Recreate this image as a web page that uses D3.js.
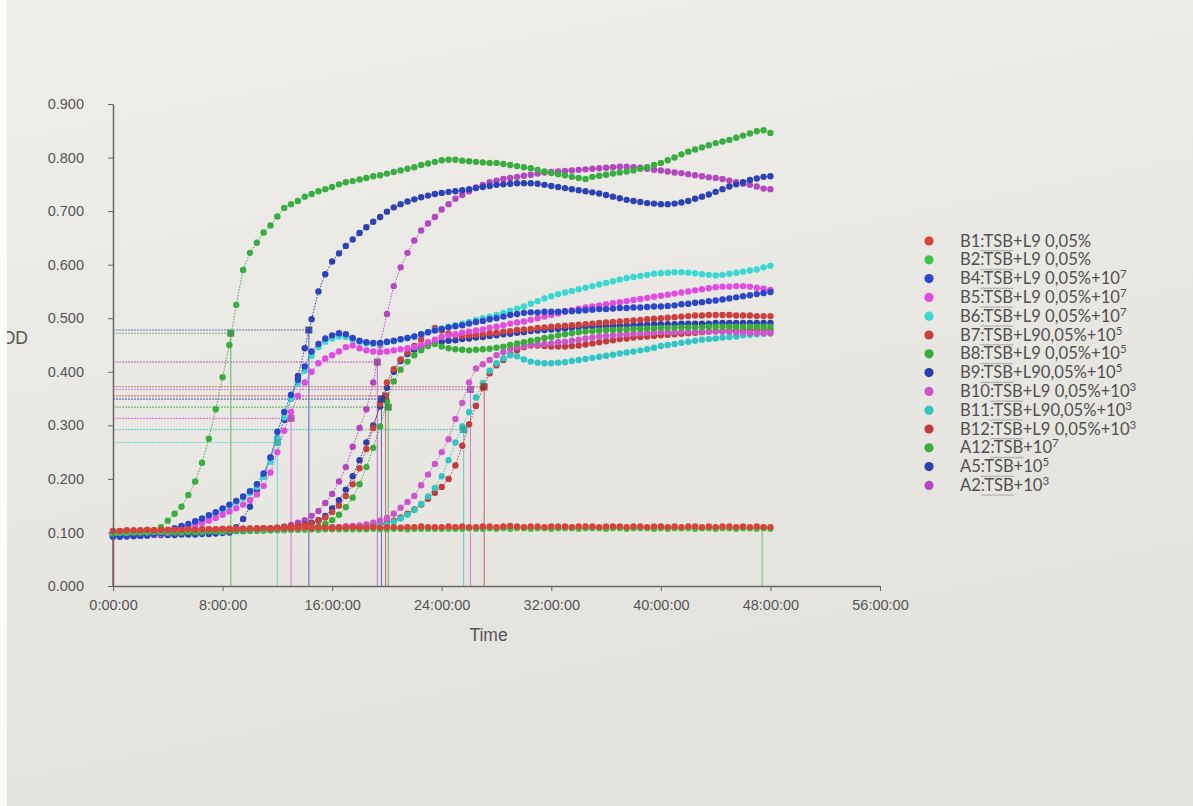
<!DOCTYPE html>
<html>
<head>
<meta charset="utf-8">
<script src="https://cdn.jsdelivr.net/npm/d3@7"></script>
<style>
  body { margin: 0; background: #e8e6e1; overflow: hidden; }
  .axis text { font-family: "Liberation Sans", Arial, sans-serif; font-size: 14.5px; fill: #555; }
  .axis path, .axis line { stroke: #666; }
  .axis path { stroke-width: 1.5; }
  .axis-label { font-family: "Liberation Sans", Arial, sans-serif; font-size: 17.5px; fill: #555; }
  .legend text { font-family: Lato, "Liberation Sans", sans-serif; font-size: 16.6px; fill: #505050; }
</style>
</head>
<body>
<div id="wrapper"></div>
<script>
// time axis, one reading every 30 minutes from 0 h to 48 h
const hours = d3.range(0, 48.5, 0.5)

const b1 = [
  0.103,0.103,0.104,0.104,0.104,0.105,0.104,0.105,0.105,0.105,
  0.105,0.106,0.105,0.106,0.106,0.106,0.107,0.106,0.107,0.107,
  0.107,0.107,0.108,0.107,0.108,0.108,0.108,0.108,0.109,0.108,
  0.109,0.109,0.108,0.109,0.109,0.110,0.109,0.109,0.110,0.109,
  0.110,0.110,0.109,0.110,0.110,0.111,0.110,0.110,0.110,0.111,
  0.110,0.111,0.110,0.110,0.111,0.111,0.110,0.111,0.112,0.111,
  0.110,0.111,0.111,0.110,0.111,0.111,0.111,0.110,0.111,0.111,
  0.111,0.110,0.111,0.111,0.111,0.110,0.111,0.111,0.110,0.111,
  0.111,0.110,0.111,0.110,0.111,0.111,0.110,0.111,0.110,0.111,
  0.111,0.110,0.111,0.110,0.111,0.110,0.110]
const b2 = [
  0.098,0.099,0.099,0.100,0.100,0.100,0.101,0.101,0.101,0.102,
  0.102,0.102,0.102,0.103,0.103,0.103,0.103,0.104,0.104,0.104,
  0.104,0.104,0.104,0.105,0.105,0.105,0.105,0.105,0.105,0.106,
  0.105,0.106,0.106,0.106,0.106,0.106,0.106,0.106,0.107,0.106,
  0.106,0.107,0.107,0.106,0.107,0.107,0.107,0.107,0.107,0.107,
  0.107,0.107,0.108,0.107,0.107,0.108,0.107,0.108,0.107,0.108,
  0.108,0.107,0.108,0.108,0.107,0.108,0.108,0.108,0.107,0.108,
  0.108,0.108,0.107,0.108,0.108,0.107,0.108,0.108,0.108,0.107,
  0.108,0.107,0.108,0.108,0.108,0.107,0.108,0.108,0.107,0.108,
  0.108,0.107,0.108,0.108,0.107,0.108,0.107]
const b4 = [
  0.092,0.092,0.093,0.093,0.094,0.095,0.097,0.099,0.103,0.108,
  0.112,0.116,0.121,0.126,0.132,0.138,0.145,0.152,0.159,0.167,
  0.177,0.190,0.210,0.240,0.288,0.325,0.357,0.385,0.410,0.438,
  0.452,0.462,0.468,0.472,0.470,0.463,0.458,0.455,0.454,0.454,
  0.456,0.458,0.461,0.463,0.466,0.470,0.474,0.477,0.480,0.483,
  0.485,0.487,0.490,0.493,0.495,0.498,0.500,0.503,0.506,0.508,
  0.510,0.511,0.511,0.512,0.512,0.512,0.513,0.513,0.514,0.515,
  0.516,0.517,0.517,0.518,0.519,0.519,0.520,0.520,0.521,0.522,
  0.522,0.523,0.524,0.526,0.527,0.529,0.530,0.532,0.533,0.535,
  0.537,0.539,0.541,0.543,0.545,0.547,0.549]
const b5 = [
  0.093,0.093,0.093,0.094,0.094,0.095,0.096,0.097,0.100,0.104,
  0.107,0.110,0.114,0.118,0.122,0.127,0.133,0.139,0.145,0.152,
  0.160,0.171,0.187,0.212,0.250,0.290,0.325,0.355,0.380,0.400,
  0.416,0.425,0.431,0.438,0.446,0.449,0.444,0.440,0.438,0.437,
  0.438,0.440,0.442,0.444,0.446,0.450,0.455,0.460,0.465,0.468,
  0.470,0.473,0.475,0.477,0.479,0.482,0.484,0.487,0.490,0.492,
  0.494,0.497,0.500,0.503,0.506,0.509,0.512,0.515,0.518,0.520,
  0.522,0.524,0.526,0.528,0.530,0.532,0.534,0.536,0.538,0.540,
  0.542,0.544,0.546,0.548,0.550,0.552,0.554,0.556,0.558,0.559,
  0.559,0.560,0.560,0.559,0.557,0.555,0.553]
const b6 = [
  0.094,0.094,0.094,0.095,0.095,0.096,0.097,0.099,0.102,0.106,
  0.110,0.114,0.119,0.124,0.129,0.135,0.142,0.149,0.156,0.164,
  0.173,0.185,0.204,0.232,0.275,0.315,0.350,0.378,0.402,0.430,
  0.446,0.456,0.462,0.466,0.465,0.460,0.456,0.453,0.452,0.453,
  0.455,0.457,0.460,0.463,0.466,0.470,0.474,0.478,0.481,0.484,
  0.487,0.490,0.493,0.497,0.500,0.503,0.506,0.510,0.514,0.518,
  0.522,0.527,0.532,0.537,0.541,0.545,0.548,0.551,0.554,0.557,
  0.560,0.563,0.566,0.569,0.572,0.575,0.577,0.579,0.581,0.583,
  0.584,0.585,0.586,0.586,0.585,0.584,0.582,0.581,0.580,0.581,
  0.583,0.585,0.587,0.589,0.591,0.595,0.598]
const b7 = [
  0.102,0.102,0.103,0.103,0.103,0.104,0.104,0.104,0.104,0.105,
  0.105,0.105,0.105,0.106,0.106,0.106,0.106,0.107,0.107,0.107,
  0.107,0.108,0.108,0.108,0.109,0.110,0.111,0.112,0.114,0.117,
  0.122,0.128,0.138,0.150,0.168,0.190,0.220,0.256,0.295,0.340,
  0.380,0.405,0.423,0.436,0.448,0.460,0.474,0.482,0.477,0.471,
  0.468,0.467,0.468,0.469,0.470,0.472,0.473,0.475,0.476,0.478,
  0.479,0.480,0.482,0.483,0.484,0.485,0.486,0.487,0.488,0.489,
  0.490,0.491,0.492,0.493,0.494,0.495,0.496,0.497,0.498,0.499,
  0.500,0.501,0.502,0.503,0.504,0.505,0.505,0.506,0.506,0.506,
  0.506,0.505,0.505,0.505,0.504,0.504,0.504]
const b8 = [
  0.096,0.096,0.097,0.097,0.098,0.098,0.099,0.099,0.100,0.100,
  0.100,0.101,0.101,0.101,0.102,0.102,0.102,0.103,0.103,0.103,
  0.103,0.104,0.104,0.104,0.105,0.105,0.106,0.107,0.108,0.109,
  0.111,0.116,0.123,0.133,0.147,0.165,0.190,0.222,0.258,0.298,
  0.345,0.382,0.404,0.419,0.431,0.440,0.448,0.452,0.447,0.444,
  0.442,0.441,0.440,0.441,0.442,0.443,0.445,0.447,0.450,0.453,
  0.455,0.458,0.460,0.463,0.465,0.468,0.470,0.472,0.474,0.475,
  0.476,0.477,0.478,0.478,0.479,0.479,0.480,0.480,0.481,0.481,
  0.482,0.482,0.482,0.483,0.483,0.483,0.483,0.484,0.484,0.484,
  0.484,0.484,0.484,0.484,0.484,0.484,0.484]
const b9 = [
  0.094,0.094,0.095,0.095,0.096,0.096,0.097,0.097,0.098,0.098,
  0.099,0.099,0.100,0.100,0.101,0.101,0.102,0.102,0.103,0.103,
  0.104,0.104,0.105,0.106,0.107,0.108,0.110,0.112,0.115,0.118,
  0.123,0.131,0.145,0.160,0.180,0.205,0.235,0.268,0.300,0.335,
  0.370,0.400,0.420,0.433,0.441,0.447,0.451,0.454,0.456,0.458,
  0.459,0.461,0.462,0.464,0.465,0.467,0.468,0.470,0.471,0.473,
  0.474,0.476,0.477,0.478,0.479,0.480,0.481,0.482,0.483,0.484,
  0.484,0.485,0.485,0.486,0.486,0.487,0.487,0.488,0.488,0.489,
  0.489,0.489,0.489,0.490,0.490,0.490,0.490,0.490,0.491,0.491,
  0.491,0.491,0.491,0.491,0.491,0.491,0.491]
const b10 = [
  0.097,0.097,0.098,0.098,0.099,0.099,0.100,0.100,0.100,0.101,
  0.101,0.101,0.102,0.102,0.102,0.103,0.103,0.103,0.104,0.104,
  0.104,0.105,0.105,0.105,0.106,0.106,0.106,0.107,0.107,0.108,
  0.108,0.109,0.109,0.110,0.111,0.112,0.113,0.115,0.118,0.122,
  0.127,0.135,0.146,0.157,0.168,0.188,0.208,0.228,0.250,0.274,
  0.312,0.342,0.380,0.406,0.414,0.422,0.431,0.437,0.442,0.446,
  0.448,0.450,0.451,0.452,0.453,0.455,0.456,0.458,0.460,0.462,
  0.464,0.466,0.467,0.468,0.469,0.470,0.471,0.472,0.473,0.473,
  0.474,0.474,0.474,0.475,0.475,0.475,0.475,0.475,0.475,0.475,
  0.475,0.474,0.474,0.473,0.473,0.472,0.472]
const b11 = [
  0.095,0.095,0.096,0.096,0.097,0.097,0.098,0.098,0.099,0.099,
  0.099,0.100,0.100,0.100,0.101,0.101,0.101,0.102,0.102,0.102,
  0.103,0.103,0.103,0.104,0.104,0.104,0.105,0.105,0.106,0.106,
  0.107,0.107,0.108,0.108,0.109,0.110,0.111,0.112,0.113,0.114,
  0.115,0.120,0.126,0.133,0.142,0.153,0.167,0.183,0.205,0.235,
  0.268,0.298,0.325,0.352,0.379,0.402,0.416,0.425,0.431,0.429,
  0.423,0.419,0.417,0.416,0.416,0.417,0.418,0.420,0.422,0.424,
  0.426,0.428,0.430,0.432,0.434,0.436,0.438,0.440,0.442,0.445,
  0.448,0.450,0.452,0.454,0.456,0.458,0.460,0.461,0.462,0.464,
  0.465,0.466,0.468,0.469,0.470,0.471,0.472]
const b12 = [
  0.101,0.101,0.102,0.102,0.102,0.103,0.103,0.103,0.104,0.104,
  0.104,0.104,0.105,0.105,0.105,0.105,0.106,0.106,0.106,0.106,
  0.107,0.107,0.107,0.107,0.108,0.108,0.108,0.108,0.109,0.109,
  0.109,0.110,0.110,0.110,0.111,0.111,0.112,0.112,0.113,0.115,
  0.118,0.122,0.128,0.135,0.143,0.152,0.163,0.174,0.185,0.200,
  0.225,0.262,0.302,0.336,0.370,0.397,0.412,0.422,0.432,0.440,
  0.446,0.449,0.449,0.448,0.447,0.447,0.447,0.448,0.449,0.451,
  0.453,0.455,0.457,0.459,0.461,0.462,0.464,0.465,0.466,0.467,
  0.468,0.469,0.470,0.471,0.472,0.473,0.474,0.475,0.476,0.476,
  0.477,0.477,0.478,0.478,0.478,0.478,0.478]
const a12 = [
  0.095,0.095,0.096,0.097,0.098,0.100,0.103,0.110,0.122,0.135,
  0.148,0.170,0.195,0.230,0.275,0.330,0.390,0.450,0.525,0.590,
  0.622,0.641,0.660,0.673,0.690,0.706,0.713,0.719,0.727,0.732,
  0.737,0.741,0.745,0.750,0.754,0.756,0.759,0.762,0.765,0.767,
  0.770,0.773,0.776,0.779,0.782,0.786,0.789,0.792,0.795,0.796,
  0.796,0.794,0.793,0.792,0.791,0.790,0.790,0.788,0.786,0.784,
  0.782,0.780,0.777,0.774,0.771,0.769,0.767,0.764,0.762,0.760,
  0.764,0.766,0.768,0.770,0.772,0.774,0.776,0.779,0.782,0.786,
  0.790,0.795,0.800,0.806,0.811,0.815,0.819,0.823,0.827,0.830,
  0.833,0.837,0.841,0.845,0.849,0.851,0.846]
const a5 = [
  0.093,0.093,0.093,0.094,0.094,0.094,0.095,0.095,0.095,0.095,
  0.096,0.096,0.096,0.097,0.097,0.098,0.099,0.100,0.110,0.125,
  0.148,0.179,0.204,0.240,0.276,0.310,0.350,0.392,0.444,0.498,
  0.550,0.582,0.606,0.621,0.635,0.647,0.659,0.670,0.680,0.689,
  0.699,0.707,0.713,0.718,0.722,0.726,0.729,0.732,0.734,0.736,
  0.737,0.739,0.741,0.743,0.745,0.747,0.749,0.750,0.751,0.752,
  0.752,0.752,0.751,0.749,0.747,0.745,0.743,0.741,0.739,0.737,
  0.735,0.733,0.730,0.727,0.724,0.721,0.719,0.717,0.715,0.714,
  0.713,0.713,0.714,0.716,0.719,0.723,0.727,0.731,0.736,0.741,
  0.746,0.750,0.754,0.758,0.761,0.764,0.765]
const a2 = [
  0.097,0.097,0.098,0.098,0.098,0.099,0.099,0.099,0.100,0.100,
  0.100,0.100,0.101,0.101,0.101,0.102,0.102,0.102,0.103,0.103,
  0.103,0.104,0.105,0.107,0.109,0.111,0.114,0.118,0.123,0.131,
  0.140,0.155,0.172,0.195,0.222,0.260,0.295,0.330,0.380,0.450,
  0.508,0.560,0.595,0.622,0.645,0.664,0.677,0.689,0.703,0.713,
  0.723,0.730,0.737,0.744,0.749,0.754,0.757,0.760,0.762,0.764,
  0.766,0.768,0.770,0.772,0.773,0.774,0.775,0.776,0.777,0.778,
  0.779,0.780,0.781,0.782,0.783,0.783,0.782,0.781,0.779,0.777,
  0.776,0.774,0.772,0.771,0.769,0.767,0.765,0.763,0.762,0.760,
  0.757,0.754,0.751,0.749,0.746,0.742,0.741]

// legend entries, in legend order
const seriesKeys = ["B1", "B2", "B4", "B5", "B6", "B7", "B8", "B9", "B10", "B11", "B12", "A12", "A5", "A2"]
const seriesValues = [b1, b2, b4, b5, b6, b7, b8, b9, b10, b11, b12, a12, a5, a2]
const seriesText = ["+L9 0,05%", "+L9 0,05%", "+L9 0,05%+10", "+L9 0,05%+10", "+L9 0,05%+10",
  "+L90,05%+10", "+L9 0,05%+10", "+L90,05%+10", "+L9 0,05%+10", "+L90,05%+10", "+L9 0,05%+10",
  "+10", "+10", "+10"]
const seriesExponent = ["", "", "7", "7", "7", "5", "5", "5", "3", "3", "3", "7", "5", "3"]

// time-to-threshold markers (series, hours, OD)
const thresholdKeys = ["A12", "A5", "A2", "B5", "B6", "B7", "B9", "B8", "B10", "B12", "B11", "B1", "B2"]
const thresholdHours = [8.6, 14.3, 19.3, 13.0, 12.0, 19.9, 19.6, 20.1, 26.1, 27.1, 25.6, 0, 47.4]
const thresholdOD = [0.472, 0.478, 0.418, 0.313, 0.268, 0.355, 0.349, 0.334, 0.367, 0.372, 0.292, 0.103, 0.107]

// axis ticks
const xTicks = [0, 8, 16, 24, 32, 40, 48, 56]
const yTicks = [0, 0.1, 0.2, 0.3, 0.4, 0.5, 0.6, 0.7, 0.8, 0.9]

const colors = {
  B1: "#d8423c", B2: "#3fc24c", B4: "#2b46c9", B5: "#e04ce0", B6: "#3ad8d0",
  B7: "#c9403e", B8: "#3aac3e", B9: "#2a3fae", B10: "#cc55cc", B11: "#31c6c4",
  B12: "#c23a3c", A12: "#39ad41", A5: "#2c42b4", A2: "#b247c0",
}

function drawChart() {
  let dimensions = {
    width: 1193,
    height: 806,
    margin: {
      top: 104,
      right: 313,
      bottom: 220,
      left: 113,
    },
  }
  dimensions.boundedWidth = dimensions.width - dimensions.margin.left - dimensions.margin.right
  dimensions.boundedHeight = dimensions.height - dimensions.margin.top - dimensions.margin.bottom

  // create chart area
  const wrapper = d3.select("#wrapper")
    .append("svg")
      .attr("width", dimensions.width)
      .attr("height", dimensions.height)

  const defs = wrapper.append("defs")
  const bg = defs.append("linearGradient")
      .attr("id", "bg")
      .attr("x1", 0).attr("y1", 0).attr("x2", 0.3).attr("y2", 1)
  bg.append("stop").attr("offset", "0%").attr("stop-color", "#efeeea")
  bg.append("stop").attr("offset", "100%").attr("stop-color", "#e4e2dd")

  wrapper.append("rect")
      .attr("width", dimensions.width)
      .attr("height", dimensions.height)
      .attr("fill", "url(#bg)")

  const bounds = wrapper.append("g")
      .style("transform", `translate(${dimensions.margin.left}px, ${dimensions.margin.top}px)`)

  // create scales
  const xScale = d3.scaleLinear()
    .domain([0, 56])
    .range([0, dimensions.boundedWidth])

  const yScale = d3.scaleLinear()
    .domain([0, 0.9])
    .range([dimensions.boundedHeight, 0])

  const colorOf = key => colors[key]

  // threshold markers
  const thresholds = thresholdKeys.map((key, i) => ({ key, t: thresholdHours[i], v: thresholdOD[i] }))

  const markerGroup = bounds.append("g")
      .attr("class", "thresholds")
      .attr("fill", "none")
      .attr("stroke-width", 1.1)
      .attr("opacity", 0.7)

  markerGroup.selectAll(".h-line")
    .data(thresholds.filter(d => d.t > 0))
    .join("line")
      .attr("class", "h-line")
      .attr("x1", 0)
      .attr("x2", d => xScale(d.t))
      .attr("y1", d => yScale(d.v))
      .attr("y2", d => yScale(d.v))
      .attr("stroke", d => colorOf(d.key))
      .attr("stroke-dasharray", "2,1")

  markerGroup.selectAll(".v-line")
    .data(thresholds)
    .join("line")
      .attr("class", "v-line")
      .attr("x1", d => xScale(d.t))
      .attr("x2", d => xScale(d.t))
      .attr("y1", d => yScale(d.v))
      .attr("y2", yScale(0))
      .attr("stroke", d => colorOf(d.key))
      .attr("stroke-width", d => d.t === 0 ? 2 : 1.1)

  // draw the series, last legend entry at the bottom
  const lineGenerator = d3.line()
    .x((d, i) => xScale(hours[i]))
    .y(d => yScale(d))

  const series = seriesKeys.map((key, i) => ({ key, values: seriesValues[i] })).reverse()

  const seriesGroups = bounds.selectAll(".series")
    .data(series)
    .join("g")
      .attr("class", "series")

  seriesGroups.append("path")
      .attr("d", d => lineGenerator(d.values))
      .attr("fill", "none")
      .attr("stroke", d => colorOf(d.key))
      .attr("stroke-width", 1)
      .attr("stroke-dasharray", "1.5,1.5")

  seriesGroups.selectAll("circle")
    .data(d => d.values.map((v, i) => ({ key: d.key, t: hours[i], v })))
    .join("circle")
      .attr("cx", d => xScale(d.t))
      .attr("cy", d => yScale(d.v))
      .attr("r", 3.2)
      .attr("fill", d => colorOf(d.key))

  // square markers where the threshold is crossed
  bounds.append("g")
    .selectAll("rect")
    .data(thresholds.filter(d => d.t > 0 && d.t < 40))
    .join("rect")
      .attr("x", d => xScale(d.t) - 3.5)
      .attr("y", d => yScale(d.v) - 3.5)
      .attr("width", 7)
      .attr("height", 7)
      .attr("fill", d => d3.color(colorOf(d.key)).darker(0.6))
      .attr("opacity", 0.85)

  // draw axes
  const xAxisGenerator = d3.axisBottom()
    .scale(xScale)
    .tickValues(xTicks)
    .tickFormat(d => `${d}:00:00`)
    .tickSize(5)
    .tickSizeOuter(0)
    .tickPadding(9)

  const xAxis = bounds.append("g")
      .attr("class", "axis x-axis")
      .style("transform", `translateY(${dimensions.boundedHeight}px)`)
    .call(xAxisGenerator)

  xAxis.append("text")
      .attr("class", "axis-label")
      .attr("x", xScale(28) - 8)
      .attr("y", 55)
      .attr("text-anchor", "middle")
      .style("font-size", "17.5px")
      .text("Time")

  const yAxisGenerator = d3.axisLeft()
    .scale(yScale)
    .tickValues(yTicks)
    .tickFormat(d3.format(".3f"))
    .tickSize(5)
    .tickSizeOuter(0)
    .tickPadding(24)

  const yAxis = bounds.append("g")
      .attr("class", "axis y-axis")
    .call(yAxisGenerator)

  wrapper.append("text")
      .attr("class", "axis-label")
      .attr("x", 28)
      .attr("y", 344)
      .attr("text-anchor", "end")
      .text("OD")

  // legend
  const legend = wrapper.append("g")
      .attr("class", "legend")
      .style("transform", "translate(929px, 241px)")

  const rowHeight = 18.8
  seriesKeys.forEach((key, i) => {
    const row = legend.append("g")
        .style("transform", `translateY(${i * rowHeight}px)`)

    row.append("circle")
        .attr("r", 4.6)
        .attr("fill", colorOf(key))

    const label = row.append("text")
        .attr("x", 31)
        .attr("y", 5.5)
    label.append("tspan").text(`${key}:TSB${seriesText[i]}`)
    if (seriesExponent[i]) {
      label.append("tspan")
          .attr("dy", -6)
          .style("font-size", "11.5px")
          .text(seriesExponent[i])
    }

    // spell-check squiggle under ":TSB"
    const node = label.node()
    const start = node.getStartPositionOfChar(key.length).x
    const end = node.getEndPositionOfChar(key.length + 3).x
    let d = `M${start},9`
    for (let x = start; x < end - 1; x += 3) d += "l1.5,1.5l1.5,-1.5"
    row.append("path")
        .attr("d", d)
        .attr("fill", "none")
        .attr("stroke", "#8a8a8a")
        .attr("stroke-width", 0.8)
  })

  // white edge of the photo
  wrapper.append("rect")
      .attr("width", 7)
      .attr("height", dimensions.height)
      .attr("fill", "#fbfbfa")
}
drawChart()
</script>
</body>
</html>
